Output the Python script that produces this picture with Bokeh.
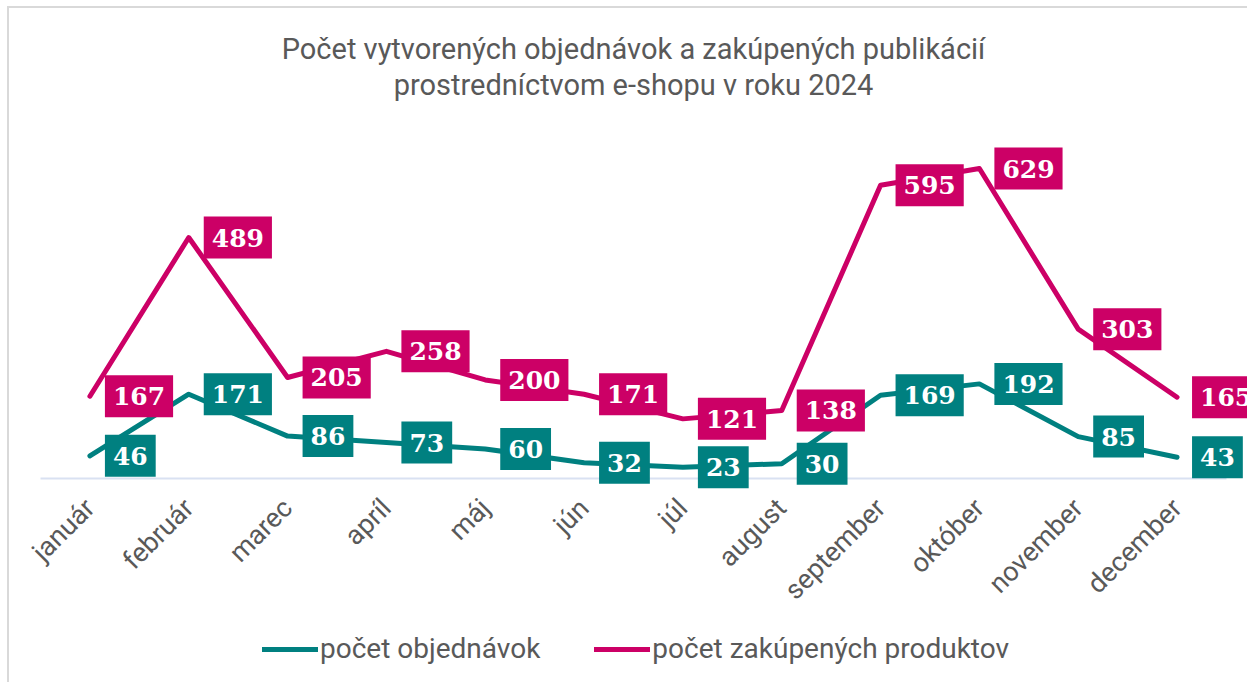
import math
from bokeh.plotting import figure
from bokeh.models import (ColumnDataSource, Range1d, Legend, LegendItem, Label,
                          LinearAxis, FixedTicker)
from bokeh.core.properties import value
from bokeh.embed import file_html
from bokeh.resources import INLINE

months = ["január", "február", "marec", "apríl", "máj", "jún", "júl",
          "august", "september", "október", "november", "december"]
orders = [46, 171, 86, 73, 60, 32, 23, 30, 169, 192, 85, 43]
products = [167, 489, 205, 258, 200, 171, 121, 138, 595, 629, 303, 165]

title_lines = ["Počet vytvorených objednávok a zakúpených publikácií",
               "prostredníctvom e-shopu v roku 2024"]
series_names = ["počet objednávok", "počet zakúpených produktov"]

TEAL = "#008080"
MAGENTA = "#CC0066"
GRAY = "#595959"

idx = list(range(len(months)))
src_o = ColumnDataSource(dict(x=idx, y=orders, t=[str(v) for v in orders]))
src_p = ColumnDataSource(dict(x=idx, y=products, t=[str(v) for v in products]))

W, H = 1240, 676           # canvas = frame (no side panels)
PX = 98.83                 # pixels per month slot
PY = 0.4928                # pixels per unit value
X0, Y0 = 31, 470           # canvas position of the left edge of slot 0 / of value 0
x_rng = Range1d(-0.5 - X0 / PX, -0.5 + (W - X0) / PX)
y_rng = Range1d(-(H - Y0) / PY, Y0 / PY)

p = figure(width=W, height=H, x_range=x_rng, y_range=y_rng, title=None,
           x_axis_location=None, y_axis_location=None,
           output_backend="svg", toolbar_location=None,
           min_border=0, min_border_left=0, min_border_right=0,
           min_border_top=0, min_border_bottom=0)
p.styles = {"margin-left": "7px", "margin-top": "6px",
            "border-top": "2px solid #d9d9d9", "border-left": "2px solid #d9d9d9"}
p.outline_line_color = None
p.grid.visible = False

ax = LinearAxis(fixed_location=0, bounds=(-0.5, len(months) - 0.5),
                ticker=FixedTicker(ticks=idx),
                major_label_overrides={i: m for i, m in enumerate(months)},
                level="underlay")
ax.major_label_orientation = math.pi / 4
ax.major_tick_line_color = None
ax.minor_tick_line_color = None
ax.axis_line_color = "#D9E1F2"
ax.axis_line_width = 2
ax.major_label_text_font = "Roboto"
ax.major_label_text_font_size = "27px"
ax.major_label_text_color = GRAY
ax.major_label_standoff = 19
p.add_layout(ax, "below")

for i, line in enumerate(title_lines):
    p.add_layout(Label(x=624, y=H - 40 - 36 * i, x_units="screen",
                       y_units="screen", text=line, text_align="center",
                       text_baseline="middle", text_font="Roboto",
                       text_font_size="29px", text_color=GRAY))

r_o = p.line("x", "y", source=src_o, line_color=TEAL, line_width=5,
             line_join="round", line_cap="round")
r_p = p.line("x", "y", source=src_p, line_color=MAGENTA, line_width=5,
             line_join="round", line_cap="round")

for src, col in ((src_o, TEAL), (src_p, MAGENTA)):
    p.text("x", "y", text="t", source=src, x_offset=15,
           text_align="left", text_baseline="middle",
           text_font=value("DejaVu Serif"), text_font_style="bold",
           text_font_size="25px", text_color="white",
           background_fill_color=col, border_line_color=None,
           padding=(8, 8, 12, 12))

legend = Legend(items=[LegendItem(label=series_names[0], renderers=[r_o]),
                       LegendItem(label=series_names[1], renderers=[r_p])],
                orientation="horizontal", location=(253, 19))
legend.label_text_font = "Roboto"
legend.label_text_font_size = "28px"
legend.label_text_color = GRAY
legend.glyph_width = 56
legend.label_standoff = 2
legend.spacing = 54
legend.border_line_color = None
legend.background_fill_alpha = 0
p.add_layout(legend, "center")

open("out.html", "w").write(file_html(p, INLINE))
